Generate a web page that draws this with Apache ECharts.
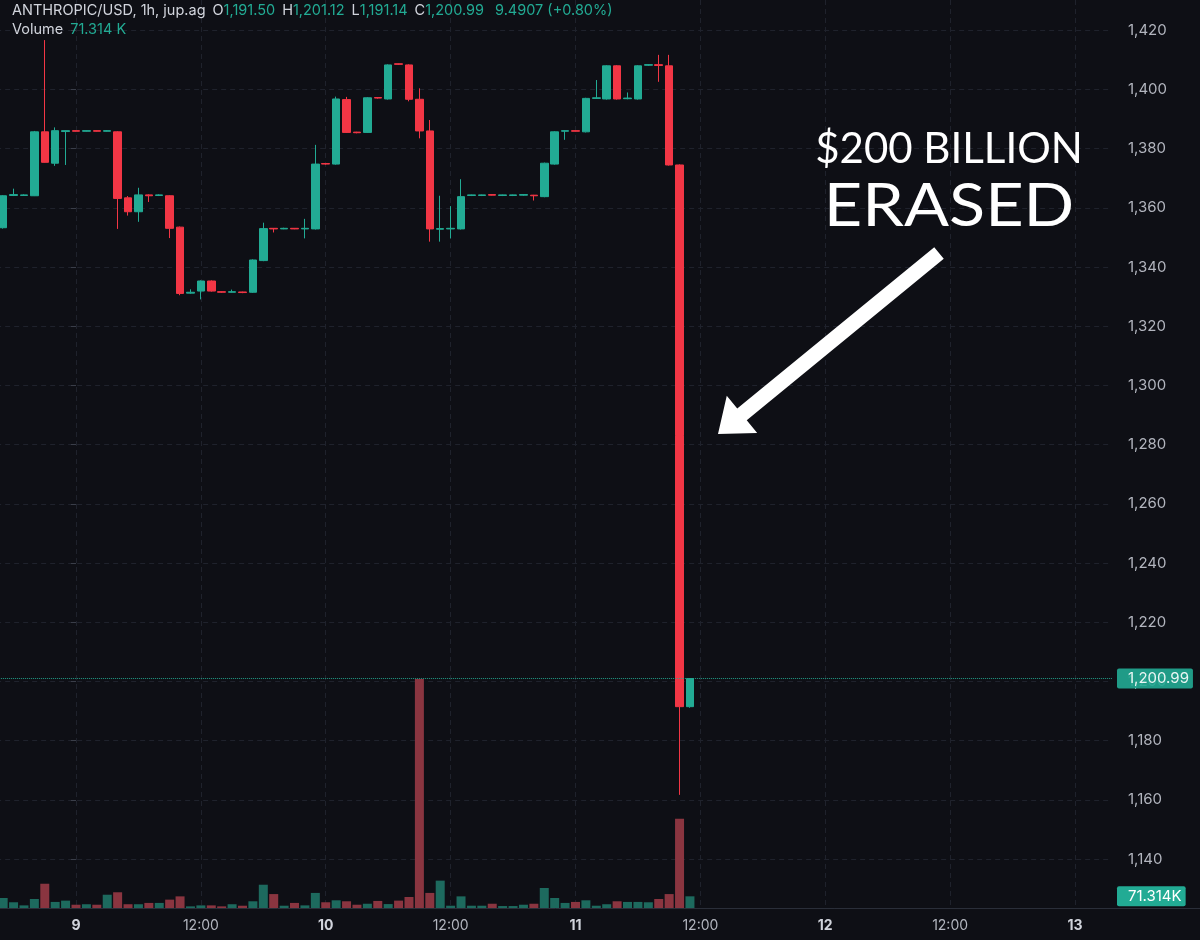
<!DOCTYPE html>
<html>
<head>
<meta charset="utf-8">
<script src="https://cdn.jsdelivr.net/npm/echarts@6/dist/echarts.min.js"></script>
<style>
html,body{margin:0;padding:0;background:#0e0f15;}
#chart{width:1200px;height:940px;}
</style>
</head>
<body>
<div id="chart"></div>
<script>
// ---- DATA (hourly candles, Day 8 17:00 -> Day 11 11:00) ----
const firstHour = -7;   // hours relative to Day 9 00:00
const baseDay = 9;
const opens  = [1353.3,1364.2,1364.2,1364.1,1385.7,1375.1,1385.8,1386.1,1385.9,1386.1,1385.9,1385.7,1363.4,1358.7,1364.4,1364.2,1364.1,1353.5,1331.2,1331.9,1335.3,1331.7,1331.5,1331.6,1331.5,1342.2,1353.1,1352.9,1353.1,1352.9,1352.9,1375.0,1374.8,1396.6,1385.6,1385.5,1397.3,1396.8,1408.7,1408.3,1396.7,1386.0,1352.8,1352.9,1352.9,1364.2,1364.2,1364.5,1364.2,1364.2,1364.3,1364.3,1363.8,1374.8,1385.9,1386.1,1385.7,1397.0,1396.8,1408.0,1396.9,1396.8,1408.2,1408.4,1408.0,1374.5,1191.50];
const closes = [1364.1,1364.5,1364.4,1385.7,1375.4,1386.1,1386.1,1385.9,1386.1,1385.9,1386.1,1363.2,1358.7,1364.4,1364.1,1364.4,1353.1,1331.1,1331.5,1335.3,1331.9,1331.5,1331.7,1331.4,1342.4,1353.0,1352.9,1353.1,1352.9,1353.1,1374.8,1374.8,1396.8,1385.5,1385.4,1397.2,1397.1,1408.3,1408.5,1396.7,1386.0,1352.9,1353.0,1353.1,1363.8,1364.4,1364.4,1364.3,1364.4,1364.4,1364.5,1364.1,1375.1,1385.7,1386.1,1385.9,1397.0,1397.2,1408.0,1396.8,1397.1,1408.0,1408.4,1408.1,1374.5,1191.5,1200.99];
const lows   = [1353.0,1364.0,1364.1,1364.0,1375.3,1374.2,1374.5,1385.8,1385.8,1385.8,1385.8,1352.9,1357.4,1355.3,1362.0,1364.0,1349.8,1330.5,1331.0,1329.1,1331.7,1331.3,1331.4,1331.2,1331.3,1342.0,1351.7,1352.8,1352.8,1349.7,1352.7,1374.6,1374.6,1385.3,1385.2,1385.3,1396.9,1396.6,1408.3,1396.0,1383.5,1348.6,1348.6,1349.7,1352.7,1364.0,1364.0,1364.2,1364.0,1364.0,1364.1,1362.5,1363.6,1374.6,1383.0,1385.8,1385.5,1396.8,1396.6,1396.6,1396.7,1396.6,1408.0,1402.6,1374.3,1161.7,1191.14];
const highs  = [1364.3,1366.5,1364.6,1386.0,1416.7,1387.2,1386.2,1386.2,1386.2,1386.2,1386.3,1385.9,1364.0,1366.8,1364.6,1364.6,1364.3,1353.7,1332.5,1335.5,1335.5,1331.8,1332.4,1331.7,1342.6,1355.0,1353.2,1353.3,1353.2,1356.3,1381.3,1375.1,1397.6,1397.5,1385.7,1397.4,1397.4,1408.5,1408.8,1408.5,1400.4,1389.7,1364.1,1360.6,1369.7,1364.5,1364.5,1364.6,1364.5,1364.5,1364.6,1364.4,1375.3,1385.9,1386.2,1386.2,1397.2,1403.2,1408.2,1408.2,1399.0,1408.2,1408.5,1411.7,1411.7,1374.7,1201.12];
const volumesK = [61,35,16,55,148,37,45,20,23,20,81,96,23,23,31,31,51,71,10,16,16,10,23,14,41,142,85,14,31,16,92,35,47,41,20,26,43,24,45,67,1397,92,167,14,71,14,14,26,12,12,20,26,122,61,31,37,47,14,23,41,37,37,35,55,85,545,71.314];
const lastChange = 9.4907;
const lastChangePct = 0.80;
const priceTicks = {min: 1120, max: 1440, step: 20};

// ---- STYLE / LAYOUT ----
const UP = '#22ab94', DOWN = '#f23645';
const VOL_UP = '#1d6a5e', VOL_DOWN = '#8a3540';
const GRIDC = '#1f222c';
const pxPerHour = 10.406, day0X = 76;      // x of Day 9 00:00
const axisX = 1112;                         // price scale boundary
const gridLeft = day0X - 12 * pxPerHour;
const xMaxHour = (axisX - day0X) / pxPerHour;
const y1400 = 89.5, pxPerUnit = 2.96;
const priceTop = y1400 - (priceTicks.max - 1400) * pxPerUnit;
const priceBottomY = y1400 + (1400 - priceTicks.min) * pxPerUnit;
const volBaseY = 908;
const volTopY = 679;

const n = opens.length;
const hours = opens.map((_, i) => firstHour + i);
const candleData = hours.map((h, i) => [h, opens[i], closes[i], lows[i], highs[i]]);
const volData = hours.map((h, i) => ({
  value: [h, volumesK[i]],
  itemStyle: {color: closes[i] >= opens[i] ? VOL_UP : VOL_DOWN}
}));
const volMax = Math.max(...volumesK) * volBaseY / (volBaseY - volTopY);

const fmt2 = v => v.toLocaleString('en-US', {minimumFractionDigits: 2, maximumFractionDigits: 2});
const last = n - 1;
const font = 'Inter, Roboto, "Noto Sans", sans-serif';
const boxLabel = {
  show: true, position: 'end', distance: 5,
  backgroundColor: UP, color: '#ffffff', padding: [3, 4, 2, 11], borderRadius: 2,
  fontFamily: font, fontSize: 15
};

const chart = echarts.init(document.getElementById('chart'), null, {renderer: 'canvas'});

// arrow geometry (annotation)
const tail = [939, 253], tip = [718, 434];
const dx = tip[0] - tail[0], dy = tip[1] - tail[1], len = Math.hypot(dx, dy);
const u = [dx / len, dy / len], nv = [-u[1], u[0]];
const headLen = 31, headHalf = 24, shaftHalf = 7.5;
const B = [tip[0] - u[0] * headLen, tip[1] - u[1] * headLen];
const P = (p, k) => [p[0] + nv[0] * k, p[1] + nv[1] * k];
const arrowPts = [P(tail, shaftHalf), P(B, shaftHalf), P(B, headHalf), tip, P(B, -headHalf), P(B, -shaftHalf), P(tail, -shaftHalf)];

const hdrRich = {
  w: {fill: '#d1d4dc', fontFamily: font, fontSize: 14.5},
  g: {fill: UP, fontFamily: font, fontSize: 14.5},
  s: {fontFamily: font, fontSize: 14.5, width: 7},
  s2: {fontFamily: font, fontSize: 14.5, width: 11}
};

const option = {
  backgroundColor: '#0e0f15',
  animation: false,
  grid: [
    {left: gridLeft, right: 1200 - axisX, top: priceTop, bottom: 940 - priceBottomY, outerBoundsMode: 'none', containLabel: false},
    {left: gridLeft, right: 1200 - axisX, top: 0, bottom: 940 - volBaseY, outerBoundsMode: 'none', containLabel: false}
  ],
  xAxis: [
    {type: 'value', gridIndex: 0, min: -12, max: xMaxHour, interval: 12, show: false, splitLine: {show: false}},
    {type: 'value', gridIndex: 1, min: -12, max: xMaxHour, interval: 12,
     axisLine: {show: true, onZero: false, lineStyle: {color: '#2a2e39'}},
     axisTick: {show: false},
     splitLine: {show: true, showMinLine: false, showMaxLine: false, lineStyle: {color: GRIDC, type: [5, 4]}},
     axisLabel: {
       show: true, margin: 11, fontFamily: font, fontSize: 14, color: '#b2b5be',
       showMinLabel: false, showMaxLabel: false,
       formatter: v => {
         if (Math.abs(v % 24) < 1e-6) return '{d|' + (baseDay + v / 24) + '}';
         if (Math.abs(v % 12) < 1e-6) return '12:00';
         return '';
       },
       rich: {d: {fontFamily: font, fontSize: 14, fontWeight: 'bold', color: '#d1d4dc'}}
     }}
  ],
  yAxis: [
    {type: 'value', gridIndex: 0, position: 'right', min: priceTicks.min, max: priceTicks.max, interval: priceTicks.step,
     axisLine: {show: false},
     axisTick: {show: true, inside: true, length: 5, lineStyle: {color: '#3a3e49'}},
     splitLine: {show: true, showMinLine: false, showMaxLine: false, lineStyle: {color: GRIDC, type: [5, 4]}},
     axisLabel: {show: true, showMinLabel: false, showMaxLabel: false, margin: 16, fontFamily: font, fontSize: 15, color: '#b2b5be',
       formatter: v => v.toLocaleString('en-US')}},
    {type: 'value', gridIndex: 1, min: 0, max: volMax, show: false, splitLine: {show: false}}
  ],
  series: [
    {
      type: 'bar', xAxisIndex: 1, yAxisIndex: 1, data: volData, barWidth: 9, z: 1,
      markLine: {
        silent: true, symbol: 'none', animation: false,
        lineStyle: {color: 'rgba(0,0,0,0)', width: 1, type: 'solid'},
        data: [{yAxis: volumesK[last]}],
        label: Object.assign({}, boxLabel, {formatter: () => volumesK[last].toFixed(3) + 'K'})
      }
    },
    {
      type: 'candlestick', xAxisIndex: 0, yAxisIndex: 0, data: candleData,
      encode: {x: 0, y: [1, 2, 3, 4]}, barWidth: 8, z: 3,
      itemStyle: {color: UP, color0: DOWN, borderColor: UP, borderColor0: DOWN, borderWidth: 1},
      markLine: {
        silent: true, symbol: 'none', animation: false,
        data: [{yAxis: closes[last]}],
        lineStyle: {color: UP, type: 'dotted', width: 1, opacity: 0.9},
        label: Object.assign({}, boxLabel, {formatter: () => fmt2(closes[last])})
      }
    }
  ],
  graphic: [
    {type: 'line', shape: {x1: axisX, y1: volBaseY + 0.5, x2: 1200, y2: volBaseY + 0.5}, style: {stroke: '#2a2e39', lineWidth: 1}, z: 5},
    {type: 'text', left: 12, top: 3, z: 10, style: {
      text: '{w|ANTHROPIC/USD, 1h, jup.ag}{s|}{w|O}{g|' + fmt2(opens[last]) + '}{s|}{w|H}{g|' + fmt2(highs[last]) + '}{s|}{w|L}{g|' + fmt2(lows[last]) + '}{s|}{w|C}{g|' + fmt2(closes[last]) + '}{s2|}{g|' + lastChange.toFixed(4) + ' (+' + lastChangePct.toFixed(2) + '%)}',
      rich: hdrRich, fontFamily: font, fontSize: 14.5}},
    {type: 'text', left: 12, top: 22, z: 10, style: {
      text: '{w|Volume}{s|}{g|' + volumesK[last].toFixed(3) + ' K}',
      rich: hdrRich, fontFamily: font, fontSize: 14.5}},
    {type: 'text', x: 949, y: 149, z: 10, style: {text: '$200 BILLION', fill: '#ffffff', font: '42px Lato, "Open Sans", sans-serif', textAlign: 'center', textVerticalAlign: 'middle'}},
    {type: 'text', x: 949, y: 207, scaleX: 1.11, z: 10, style: {text: 'ERASED', fill: '#ffffff', font: '60px Lato, "Open Sans", sans-serif', textAlign: 'center', textVerticalAlign: 'middle'}},
    {type: 'polygon', z: 10, shape: {points: arrowPts}, style: {fill: '#ffffff'}}
  ]
};
chart.setOption(option);
</script>
</body>
</html>
